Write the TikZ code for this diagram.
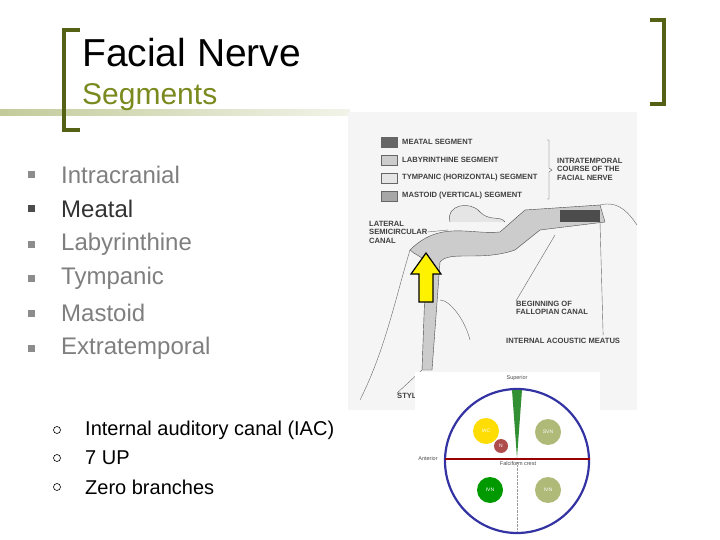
\documentclass[tikz,border=0pt]{standalone}
\usepackage{fontspec}
\setmainfont{Liberation Sans}
\usetikzlibrary{arrows.meta}
\definecolor{olive}{HTML}{7A8A1E}
\definecolor{bul}{HTML}{8C8C8C}
\definecolor{txt}{HTML}{7F7F7F}
\tikzset{
 bull/.style={fill=bul,minimum size=7pt,inner sep=0pt},
 item/.style={anchor=west,text=txt,font=\fontsize{24}{24}\selectfont,inner sep=0pt},
 sub/.style={anchor=west,font=\fontsize{20}{20}\selectfont,inner sep=0pt},
 subb/.style={circle,draw=black,line width=0.6pt,minimum size=7pt,inner sep=0pt},
 lab/.style={anchor=west,font=\fontsize{7.6}{8.5}\selectfont\bfseries,text=black!75,inner sep=0pt,align=left},
 leg/.style={draw=black!60,minimum width=16pt,minimum height=10pt,inner sep=0pt},
 disc/.style={circle,minimum size=26pt,inner sep=0pt,font=\fontsize{5}{5}\selectfont,text=white},
 tiny/.style={font=\fontsize{5.5}{5.5}\selectfont,inner sep=0pt,text=black!70}
}
\begin{document}
\begin{tikzpicture}[x=1pt,y=-1pt]
\useasboundingbox (0,0) rectangle (720,540);
\fill[white] (0,0) rectangle (720,540);
% top band
\shade[left color=olive!45,right color=olive!10] (0,110) rectangle (350,116);
% brackets
\draw[olive!70!black,line width=4pt] (80,30) -- (64,30) -- (64,130) -- (80,130);
\draw[olive!70!black,line width=4pt] (650,20) -- (664,20) -- (664,104) -- (650,104);
\node[anchor=west,inner sep=0pt,font=\fontsize{39}{39}\selectfont] (t1) at (82,53) {Facial Nerve};
\node[anchor=west,inner sep=0pt,text=olive,font=\fontsize{30}{30}\selectfont] (t2) at (82,97) {Segments};
% bullets
\foreach \y/\t/\n/\c in {175/Intracranial/a/txt,209/Meatal/b/black!80,244/Labyrinthine/c/txt,278/Tympanic/d/txt,313/Mastoid/e/txt,348/Extratemporal/f/txt}{
 \node[bull] (b\n) at (31,\y) {};
 \node[item,text=\c] (i\n) at (61,\y) {\t};
}
\node[bull,fill=black!70] at (31,209) {};
\foreach \y/\t/\n in {430/{Internal auditory canal (IAC)}/a,458/7 UP/b,487/Zero branches/c}{
 \node[subb] (s\n) at (57,\y) {};
 \node[sub] (u\n) at (85,\y) {\t};
}
% illustration background
\fill[black!4] (348,112) rectangle (637,410);
% legend
\node[leg,fill=black!60] (l1) at (389,142) {};
\node[leg,fill=black!20] (l2) at (389,160) {};
\node[leg,fill=black!10] (l3) at (389,178) {};
\node[leg,fill=black!35] (l4) at (389,196) {};
\node[lab] (m1) at (402,142) {MEATAL SEGMENT};
\node[lab] (m2) at (402,160) {LABYRINTHINE SEGMENT};
\node[lab] (m3) at (402,178) {TYMPANIC (HORIZONTAL) SEGMENT};
\node[lab] (m4) at (402,196) {MASTOID (VERTICAL) SEGMENT};
\draw[black!70] (547,140) -- (549,140) -- (549,168) -- (552,170) -- (549,172) -- (549,199) -- (547,199);
\node[lab] (it) at (557,169) {INTRATEMPORAL\\COURSE OF THE\\FACIAL NERVE};
\node[lab] (lsc) at (369,232) {LATERAL\\SEMICIRCULAR\\CANAL};
\node[lab] (bf) at (516,308) {BEGINNING OF\\FALLOPIAN CANAL};
\node[lab] (iam) at (506,341) {INTERNAL ACOUSTIC MEATUS};
\node[lab] (sty) at (397,396) {STYL};
% nerve drawing
\draw[black!70,fill=black!20] (410,250) .. controls (440,220) and (470,235) .. (500,232) -- (525,210) -- (600,205) -- (605,222) -- (540,230) -- (515,250) .. controls (480,262) and (450,250) .. (440,262) -- (432,370) -- (422,370) -- (426,262) .. controls (420,255) and (415,255) .. (410,250);
\fill[black!70] (560,210) rectangle (600,222);
\draw[black!70,fill=black!10] (450,222) .. controls (445,205) and (470,200) .. (480,212) .. controls (490,222) and (500,215) .. (505,222);
\draw[black!60] (600,205) .. controls (620,200) and (630,215) .. (637,225);
\draw[black!60] (410,250) .. controls (395,300) and (385,350) .. (360,400);
\draw[black!60] (440,300) .. controls (450,300) and (465,320) .. (470,340);
\draw[black!60] (lsc.east) -- (448,230);
\draw[black!60] (bf.north west) -- (555,235);
\draw[black!60] (iam.north) ++(40,-3) -- (600,222);
\draw[black!60] (sty.north west) -- (422,370);
% yellow arrow
\draw[black,line width=1.2pt,fill=yellow] (419,302) -- (419,274) -- (411,274) -- (426,253) -- (441,274) -- (433,274) -- (433,302) -- cycle;
% circle diagram
\fill[white] (415,372) rectangle (600,540);
\draw[blue!55!black!80,line width=2.2pt] (517,461) circle (72);
\draw[red!60!black,line width=2pt] (445,459) -- (590,459);
\draw[black!40,densely dotted] (517,462) -- (517,532);
\fill[green!45!black!80] (512,390) -- (522,390) -- (517,458) -- cycle;
\node[disc,fill=yellow!80!orange] (d1) at (486,431) {IAC};
\node[disc,minimum size=14pt,fill=red!55!black!70] (d2) at (501,446) {N};
\node[disc,fill=olive!60] (d3) at (548,432) {SVN};
\node[disc,fill=green!60!black] (d4) at (490,490) {IVN};
\node[disc,fill=olive!60] (d5) at (548,490) {IVN};
\node[tiny] (sp) at (517,378) {Superior};
\node[tiny] (an) at (428,459) {Anterior};
\node[tiny] (fc) at (518,464) {Falciform crest};
\end{tikzpicture}
\end{document}
